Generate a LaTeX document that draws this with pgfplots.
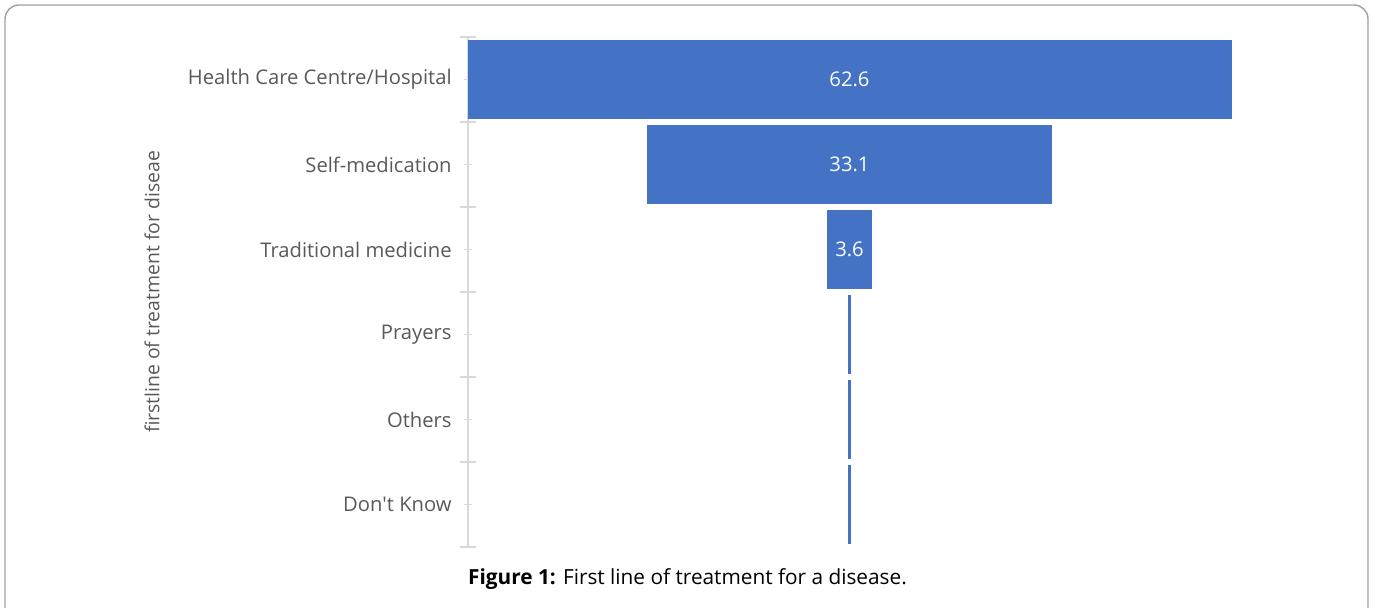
\documentclass[border=0pt]{standalone}
\usepackage{fontspec}
\setmainfont{Open Sans}
\newfontfamily\capfont{Open Sans}
\usepackage{pgfplots}
\pgfplotsset{compat=1.18}
\definecolor{barblue}{HTML}{4472C4}
\definecolor{lblgray}{HTML}{595959}
\definecolor{axgray}{HTML}{D9D9D9}
\begin{document}
\begin{tikzpicture}[x=0.5pt,y=0.5pt]
\useasboundingbox (0,0) rectangle (1375,608);
\draw[gray!75, line width=0.7pt, rounded corners=7pt] (5,-20) rectangle (1368,603);
\begin{axis}[
  at={(234pt,30.5pt)}, anchor=south west,
  scale only axis, width=381.5pt, height=255pt,
  xmin=-31.3, xmax=31.3,
  ymin=-0.5, ymax=5.5, y dir=reverse,
  axis x line=none,
  axis y line*=left,
  axis line style={axgray, line width=0.9pt},
  ytick={0,1,2,3,4,5},
  yticklabels={Health Care Centre/Hospital, Self-medication, Traditional medicine, Prayers, Others, Don\textquotesingle t Know},
  minor ytick={-0.5,0.5,1.5,2.5,3.5,4.5,5.5},
  tick align=center,
  major tick length=4pt,
  minor tick length=8pt,
  every tick/.style={axgray, line width=0.9pt},
  yticklabel style={font=\fontsize{10.1}{12}\selectfont, text=lblgray, inner sep=0pt, xshift=-6pt},
  clip=false,
]
\addplot[xbar, bar width=39pt, bar shift=0pt, fill=barblue, draw=barblue, line width=0.3pt]
  coordinates {(-31.3,0) (-16.55,1) (-1.8,2) (-0.1,3) (-0.1,4) (-0.1,5)};
\addplot[xbar, bar width=39pt, bar shift=0pt, fill=barblue, draw=barblue, line width=0.3pt]
  coordinates {(31.3,0) (16.55,1) (1.8,2) (0.1,3) (0.1,4) (0.1,5)};
\addplot[only marks, mark=none, nodes near coords, point meta=explicit symbolic,
  every node near coord/.append style={anchor=center, text=white, font=\fontsize{10.1}{12}\selectfont}]
  coordinates {(0,0)[62.6] (0,1)[33.1] (0,2)[3.6]};
\end{axis}
\node[rotate=90, text=lblgray, font=\fontsize{9.7}{12}\selectfont] at (152,316) {firstline of treatment for diseae};
\node[font=\capfont\fontsize{10.4}{12}\selectfont] at (687.5,29) {\textbf{Figure 1:} First line of treatment for a disease.};
\end{tikzpicture}
\end{document}
